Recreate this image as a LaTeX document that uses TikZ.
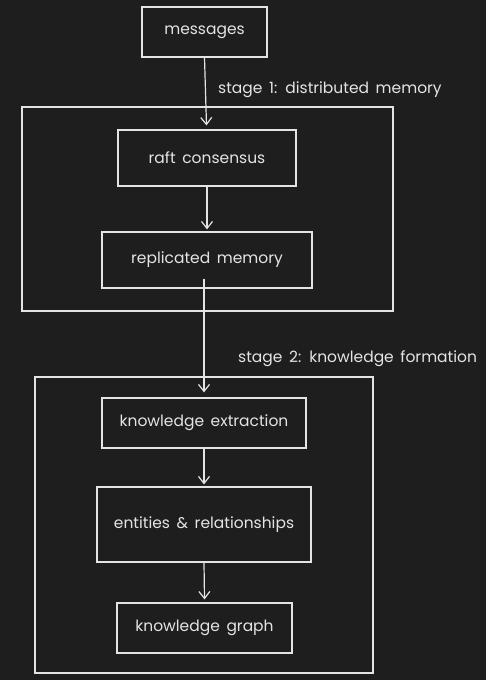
\documentclass[tikz,border=0pt]{standalone}
\usepackage{fontspec}
\setmainfont{Poppins}[WordSpace=1.6]
\usetikzlibrary{%
        arrows.meta,
        positioning}
\definecolor{canvas}{HTML}{1E1E1E}
\definecolor{chalk}{HTML}{E4E4E4}
\tikzset{%
    block/.style={draw=chalk, line width=1.2pt, text=chalk, inner sep=0pt,
        font=\fontsize{15.5}{18}\selectfont},
    stagebox/.style={draw=chalk, line width=1.2pt},
    caption/.style={text=chalk, anchor=west, inner sep=0pt,
        font=\fontsize{15.5}{18}\selectfont},
    link/.style={->, line width=1.2pt, draw=chalk},
    >={Straight Barb[length=7pt, width=11pt]}
}

\begin{document}
\begin{tikzpicture}[x=1pt, y=-1pt]

    \fill[canvas] (0, 0) rectangle (486, 680);
    \useasboundingbox (0, 0) rectangle (486, 680);

    % stage frames
    \node[stagebox, minimum width=371pt, minimum height=204pt] (memstage)
        at (207.5, 209) {};
    \node[stagebox, minimum width=338pt, minimum height=296pt] (kstage)
        at (204, 525) {};
    \node[caption] (memlabel) at (218, 90) {stage 1: distributed memory};
    \node[caption] (klabel) at (238, 359) {stage 2: knowledge formation};

    \node[block, minimum width=125pt, minimum height=50pt] (msgs)
        at (204.5, 32) {messages};
    \node[block, minimum width=178pt, minimum height=56pt] (raft)
        at (207, 158) {raft consensus};
    \node[block, minimum width=210pt, minimum height=56pt] (replica)
        at (207, 260) {replicated memory};

    \node[block, minimum width=204pt, minimum height=50pt] (extract)
        at (204, 423) {knowledge extraction};
    \node[block, minimum width=214pt, minimum height=75pt] (entities)
        at (204, 524.5) {entities \& relationships};
    \node[block, minimum width=175pt, minimum height=50pt] (kgraph)
        at (204.5, 628) {knowledge graph};

    \draw[link] (msgs.south) -- ([xshift=2pt, yshift=4pt] raft.north -| msgs.south);
    \draw[link] (raft.south) -- ([yshift=2pt] replica.north);
    \draw[link] ([xshift=-3pt, yshift=10pt] replica.south) --
        ([yshift=5pt] extract.north);
    \draw[link] (extract.south) -- ([yshift=2pt] entities.north);
    \draw[link] (entities.south) -- ([yshift=3pt] kgraph.north);

\end{tikzpicture}
\end{document}
